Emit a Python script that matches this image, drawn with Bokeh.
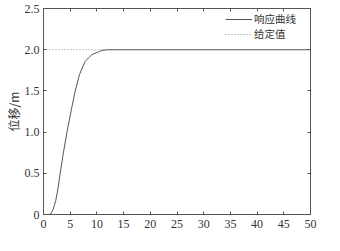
from bokeh.plotting import figure
from bokeh.models import Range1d, LinearAxis, FixedTicker, Label, Legend, LegendItem
from bokeh.embed import file_html
from bokeh.resources import INLINE

# data
t_resp = [0, 1.0, 1.4, 1.8, 2.3, 2.7, 3.13, 3.7, 4.4, 5.3, 5.94, 6.75, 7.8, 9.05, 10.9, 12.0, 50]
y_resp = [0, 0, 0.01, 0.06, 0.17, 0.31, 0.5, 0.74, 1.0, 1.3, 1.5, 1.7, 1.86, 1.94, 1.99, 2.0, 2.0]
t_set = [0, 50]
y_set = [2.0, 2.0]
x_ticks = [0, 5, 10, 15, 20, 25, 30, 35, 40, 45, 50]
y_ticks = [0, 0.5, 1.0, 1.5, 2.0, 2.5]
y_tick_labels = ["0", "0.5", "1.0", "1.5", "2.0", "2.5"]
series_names = ["响应曲线", "给定值"]

SERIF = "Liberation Serif"
CJK = "Noto Sans CJK SC"
AX = "#555555"
TXT = "#333333"

p = figure(width=340, height=251, output_backend="svg", toolbar_location=None,
           x_range=Range1d(0, 50), y_range=Range1d(0, 2.5),
           min_border_left=43, min_border_right=30, min_border_top=8, min_border_bottom=37,
           background_fill_color="white", border_fill_color="white")
p.grid.visible = False
p.outline_line_color = AX
p.outline_line_width = 1

r1 = p.line(t_resp, y_resp, line_color="#555555", line_width=1)
r2 = p.line(t_set, y_set, line_color="#888888", line_width=1, line_dash="1 2")

def style(ax, ticks, show_labels=True):
    ax.ticker = FixedTicker(ticks=ticks)
    ax.minor_tick_line_color = None
    ax.major_tick_in = 3
    ax.major_tick_out = 0
    ax.axis_line_color = AX
    ax.major_tick_line_color = AX
    ax.major_label_text_font = SERIF
    ax.major_label_text_color = TXT
    ax.major_label_text_font_size = "12px"
    if not show_labels:
        ax.major_label_overrides = {v: "" for v in ticks}
        ax.major_label_standoff = 0

xa = p.xaxis[0]
style(xa, x_ticks)
xa.major_label_standoff = 5

ya = p.yaxis[0]
style(ya, y_ticks)
ya.major_label_overrides = {v: s for v, s in zip(y_ticks, y_tick_labels)}
ya.major_label_standoff = 4
ya.axis_label = "位移/m"
ya.axis_label_text_font = CJK
ya.axis_label_text_font_style = "normal"
ya.axis_label_text_font_size = "12px"
ya.axis_label_text_color = TXT
ya.axis_label_standoff = 0

ra = LinearAxis()
style(ra, y_ticks, show_labels=False)
p.add_layout(ra, "right")
ta = LinearAxis()
style(ta, x_ticks, show_labels=False)
p.add_layout(ta, "above")

# x axis label: 时间 t/s (italic t)
p.add_layout(Label(x=25, y=0, x_offset=1, y_offset=-24, text="时间", text_font=CJK,
                   text_font_size="12px", text_color=TXT, text_align="right",
                   text_baseline="middle"))
p.add_layout(Label(x=25, y=0, x_offset=5, y_offset=-24, text="t", text_font=SERIF,
                   text_font_style="italic", text_font_size="13px", text_color=TXT,
                   text_align="left", text_baseline="middle"))
p.add_layout(Label(x=25, y=0, x_offset=9, y_offset=-24, text="/s", text_font=SERIF,
                   text_font_size="13px", text_color=TXT, text_align="left",
                   text_baseline="middle"))

def make_legend(name, rend, loc):
    lg = Legend(items=[LegendItem(label=name, renderers=[rend])], location=loc)
    lg.border_line_color = None
    lg.background_fill_alpha = 0
    lg.label_text_font = CJK
    lg.label_text_font_size = "10.5px"
    lg.label_text_color = TXT
    lg.glyph_width = 27
    lg.glyph_height = 10
    lg.label_height = 10
    lg.spacing = 0
    lg.padding = 0
    lg.margin = 0
    lg.label_standoff = 2
    return lg

p.add_layout(make_legend(series_names[0], r1, (182, 188)))
p.add_layout(make_legend(series_names[1], r2, (182, 173)))

open("out.html", "w").write(file_html(p, INLINE))
